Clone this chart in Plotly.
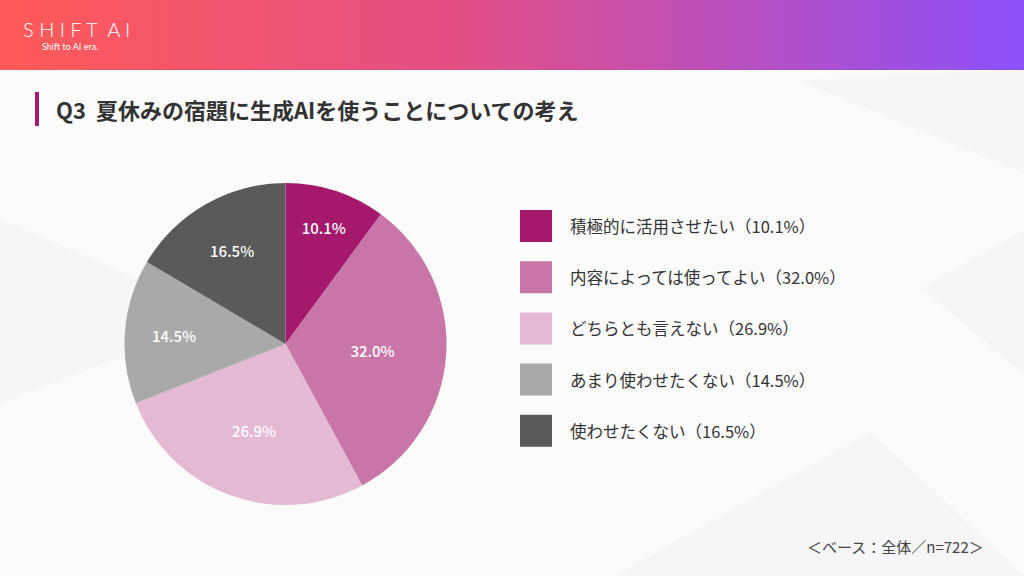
import plotly.graph_objects as go

# data
labels = ["積極的に活用させたい", "内容によっては使ってよい", "どちらとも言えない",
          "あまり使わせたくない", "使わせたくない"]
values = [10.1, 32.0, 26.9, 14.5, 16.5]
colors = ["#A4196C", "#C876A8", "#E3B9D4", "#A9A9A9", "#5A5A5A"]

title = "Q3  夏休みの宿題に生成AIを使うことについての考え"
base_note = "＜ベース：全体／n=722＞"

W, H = 1024, 576
FONT = "Noto Sans CJK JP"


def px(x):
    return x / W


def py(y):
    return 1 - y / H


fig = go.Figure()

# header band with gradient
fig.add_trace(go.Scatter(
    x=[0, 1, 1, 0, 0], y=[py(70), py(70), 1, 1, py(70)],
    mode="lines", line=dict(width=0), fill="toself",
    fillgradient=dict(type="horizontal",
                      colorscale=[[0, "#FF5A57"], [0.45, "#E24F86"], [1, "#8C50FA"]]),
    hoverinfo="skip", showlegend=False,
))

fig.add_trace(go.Pie(
    labels=labels, values=values, sort=False, direction="clockwise", rotation=0,
    marker=dict(colors=colors, line=dict(width=0)),
    texttemplate="%{value:.1f}%", textposition="inside",
    insidetextfont=dict(color="white", size=15, family=FONT, weight=500),
    domain=dict(x=[px(124), px(447)], y=[py(505), py(183)]),
    showlegend=False, hoverinfo="label+value",
))

shapes = []
annotations = []

# faint background facets
for pts, col in [
    ("M 0,0.62 L 0.22,0.45 L 0,0.3 Z", "rgba(230,230,234,0.25)"),
    ("M 0.78,0.86 L 1,0.7 L 1,0.88 Z", "rgba(230,230,234,0.25)"),
    ("M 0.6,0 L 0.85,0.25 L 1,0 Z", "rgba(230,230,234,0.25)"),
    ("M 0.9,0.5 L 1,0.35 L 1,0.6 Z", "rgba(230,230,234,0.25)"),
]:
    shapes.append(dict(type="path", path=pts, xref="paper", yref="paper",
                       fillcolor=col, line=dict(width=0), layer="below"))

# title accent bar
shapes.append(dict(type="rect", xref="paper", yref="paper",
                   x0=px(35), x1=px(39), y0=py(126), y1=py(92),
                   fillcolor="#A4196C", line=dict(width=0)))

# custom legend
for i, (lab, val, col) in enumerate(zip(labels, values, colors)):
    yc = 226 + i * 51.2
    shapes.append(dict(type="rect", xref="paper", yref="paper",
                       x0=px(520), x1=px(552), y0=py(yc + 16), y1=py(yc - 16),
                       fillcolor=col, line=dict(width=0)))
    annotations.append(dict(text=f"{lab}（{val:.1f}%）", xref="paper", yref="paper",
                            x=px(568), y=py(yc), xanchor="left", yanchor="middle",
                            showarrow=False,
                            font=dict(size=16.5, color="#333333", family=FONT)))

# logo
annotations.append(dict(text="S H I F T  A I", xref="paper", yref="paper", x=px(21), y=py(29),
                        xanchor="left", yanchor="middle", showarrow=False,
                        font=dict(size=20, color="white", family="Lato", weight=300)))
annotations.append(dict(text="Shift to AI era.", xref="paper", yref="paper", x=px(40), y=py(47),
                        xanchor="left", yanchor="middle", showarrow=False,
                        font=dict(size=9, color="white", family="Lato")))

# title
annotations.append(dict(text=f"<b>{title}</b>", xref="paper", yref="paper", x=px(54), y=py(109),
                        xanchor="left", yanchor="middle", showarrow=False,
                        font=dict(size=22, color="#333333", family=FONT)))

# base note
annotations.append(dict(text=base_note, xref="paper", yref="paper", x=px(986), y=py(546),
                        xanchor="right", yanchor="middle", showarrow=False,
                        font=dict(size=15, color="#444444", family=FONT)))

fig.update_layout(
    width=W, height=H,
    margin=dict(l=0, r=0, t=0, b=0),
    paper_bgcolor="#FBFBFC", plot_bgcolor="rgba(0,0,0,0)",
    xaxis=dict(range=[0, 1], visible=False, fixedrange=True, domain=[0, 1]),
    yaxis=dict(range=[0, 1], visible=False, fixedrange=True, domain=[0, 1]),
    shapes=shapes, annotations=annotations,
    showlegend=False,
)

fig.write_html("out.html", config={"displayModeBar": False},
               post_script="document.body.style.margin='0';")
